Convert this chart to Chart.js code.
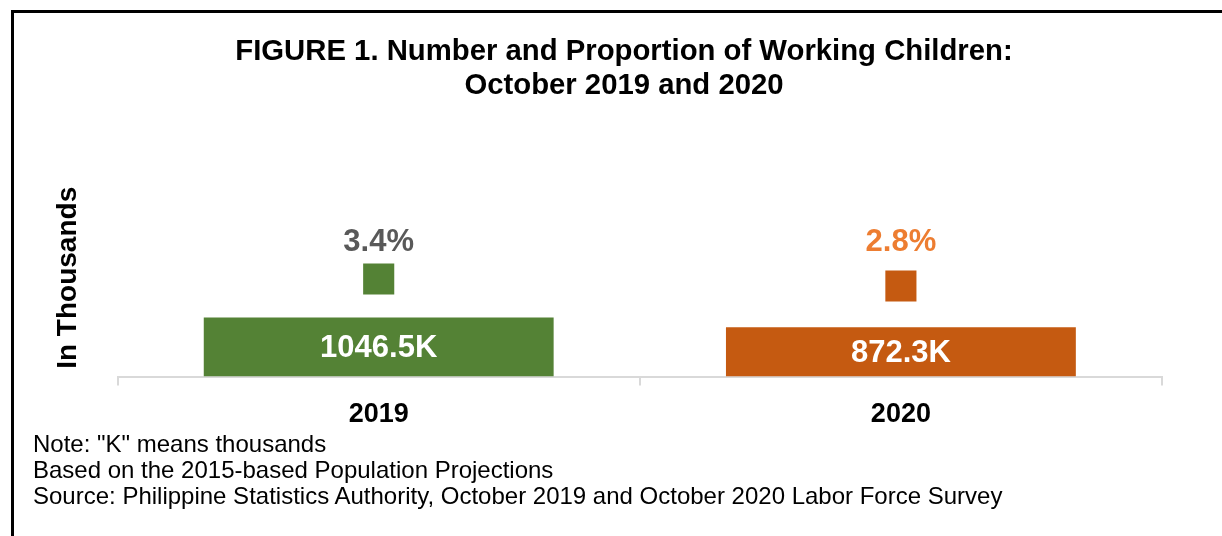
<!DOCTYPE html>
<html>
<head>
<meta charset="utf-8">
<script src="https://cdn.jsdelivr.net/npm/chart.js@4.4.0/dist/chart.umd.min.js"></script>
<style>
  html, body { margin: 0; padding: 0; background: #fff; overflow: hidden; }
  body { width: 1222px; height: 536px; position: relative; font-family: "Liberation Sans", Arial, sans-serif; }
  #frame {
    position: absolute; left: 11px; top: 10px; width: 1300px; height: 600px;
    border-left: 3px solid #000; border-top: 3px solid #000;
  }
  #chart { position: absolute; left: 14px; top: 13px; }
  #title {
    position: absolute; left: 14px; top: 33px; width: 1220px; text-align: center;
    font-size: 29.3px; font-weight: bold; line-height: 34px; color: #000;
  }
  #notes {
    position: absolute; left: 33px; top: 431px;
    font-size: 24px; line-height: 26px; color: #000;
  }
</style>
</head>
<body>
<div id="frame"></div>
<canvas id="chart" width="1220" height="523"></canvas>
<div id="title">FIGURE 1. Number and Proportion of Working Children:<br>October 2019 and 2020</div>
<div id="notes">
  Note: "K" means thousands<br>
  Based on the 2015-based Population Projections<br>
  Source: Philippine Statistics Authority, October 2019 and October 2020 Labor Force Survey
</div>
<script>
// data
const years = ["2019", "2020"];
const workingChildren = [1046.5, 872.3];   // in thousands
const proportion = [3.4, 2.8];             // percent
const barColors = ["#548235", "#C55A11"];
const pctLabelColors = ["#595959", "#ED7D31"];

const fontFamily = '"Liberation Sans", Arial, sans-serif';

// draws the "1046.5K" labels inside bars and the "3.4%" labels above the squares
const valueLabels = {
    id: "valueLabels",
    afterDatasetsDraw(chart) {
        const ctx = chart.ctx;
        ctx.save();
        ctx.textAlign = "center";
        ctx.textBaseline = "middle";
        ctx.font = "bold 31px " + fontFamily;

        const barMeta = chart.getDatasetMeta(0);
        barMeta.data.forEach((bar, i) => {
            ctx.fillStyle = "#ffffff";
            ctx.fillText(workingChildren[i].toFixed(1) + "K", bar.x, (bar.y + bar.base) / 2 + 1);
        });

        const pointMeta = chart.getDatasetMeta(1);
        const topY = Math.min(...pointMeta.data.map(p => p.y));
        pointMeta.data.forEach((pt, i) => {
            ctx.fillStyle = pctLabelColors[i];
            ctx.fillText(proportion[i].toFixed(1) + "%", pt.x, topY - 37);
        });
        ctx.restore();
    }
};

new Chart(document.getElementById("chart"), {
    data: {
        labels: years,
        datasets: [{
            type: "bar",
            label: "Working children",
            data: workingChildren,
            backgroundColor: barColors,
            borderWidth: 0,
            categoryPercentage: 0.67,
            barPercentage: 1.0,
            yAxisID: "y",
            order: 2
        }, {
            type: "line",
            label: "Proportion",
            data: proportion,
            showLine: false,
            pointStyle: "rect",
            pointRadius: 22,
            pointHoverRadius: 22,
            pointBackgroundColor: barColors,
            pointBorderColor: barColors,
            pointBorderWidth: 0,
            yAxisID: "y2",
            order: 1
        }]
    },
    options: {
        responsive: false,
        devicePixelRatio: 1,
        animation: false,
        layout: { padding: { left: 0, right: 72, top: 166, bottom: 92 } },
        plugins: {
            legend: { display: false },
            tooltip: { enabled: false },
            title: { display: false }
        },
        scales: {
            x: {
                offset: true,
                grid: {
                    display: true,
                    drawOnChartArea: false,
                    drawTicks: true,
                    tickLength: 9,
                    color: "#D9D9D9",
                    lineWidth: 2
                },
                border: { display: true, color: "#D9D9D9", width: 2 },
                ticks: {
                    color: "#000",
                    padding: 13,
                    font: { family: fontFamily, size: 27, weight: "bold" }
                }
            },
            y: {
                position: "left",
                min: 0,
                max: 3500,
                grid: { display: false },
                border: { display: false },
                ticks: { display: false },
                title: {
                    display: true,
                    text: "In Thousands",
                    color: "#000",
                    font: { family: fontFamily, size: 28, weight: "bold", lineHeight: 1.2 },
                    padding: { top: 37, bottom: 25 }
                }
            },
            y2: {
                display: false,
                min: -5,
                max: 12
            }
        }
    },
    plugins: [valueLabels]
});
</script>
</body>
</html>
